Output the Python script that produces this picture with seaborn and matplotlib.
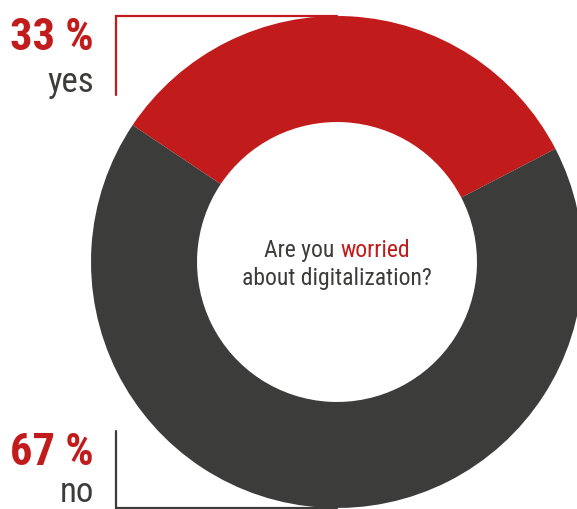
import matplotlib
matplotlib.use("Agg")
import matplotlib.pyplot as plt
from matplotlib import font_manager
import seaborn as sns

# ---- data ----
labels = ["yes", "no"]
values = [33, 67]
pct_labels = ["33 %", "67 %"]
colors = ["#C21B1B", "#3C3C3B"]
question_parts = ["Are you", "worried", "about digitalization?"]

sns.set_theme(style="white")

avail = {f.name for f in font_manager.fontManager.ttflist}
stretch = "normal"
if "Liberation Sans Narrow" in avail:
    fam = "Liberation Sans Narrow"
elif "Roboto Condensed" in avail:
    fam = "Roboto Condensed"
elif "DejaVu Sans" in avail:
    fam = "DejaVu Sans"
    stretch = "condensed"
else:
    fam = "Liberation Sans"
plt.rcParams["font.family"] = [fam, "DejaVu Sans"]

W, H = 577, 509
fig = plt.figure(figsize=(W / 100, H / 100), dpi=100)
fig.patch.set_facecolor("white")

cx, cy, R = 337, 262, 246
ax = fig.add_axes([(cx - R) / W, (H - cy - R) / H, 2 * R / W, 2 * R / H])
ax.pie(values, colors=colors, startangle=27.4, counterclock=True,
       radius=1.0, wedgeprops=dict(width=0.431, linewidth=0))
ax.set_xlim(-1, 1)
ax.set_ylim(-1, 1)
ax.set_axis_off()

# overlay in pixel coordinates
ov = fig.add_axes([0, 0, 1, 1], zorder=-1)
ov.set_xlim(0, W)
ov.set_ylim(H, 0)
ov.set_axis_off()
ov.patch.set_alpha(0)

# brackets
ov.plot([116, 116, cx], [95, 15.5, 15.5], color=colors[0], lw=1.6, solid_joinstyle="miter")
ov.plot([116, 116, cx], [431, 507.5, 507.5], color=colors[1], lw=1.6, solid_joinstyle="miter")

# side labels
ov.text(94, 50, pct_labels[0], ha="right", va="baseline", fontsize=32,
        fontweight="bold", color=colors[0], fontstretch=stretch)
ov.text(94, 92, labels[0], ha="right", va="baseline", fontsize=25,
        color=colors[1], fontstretch=stretch)
ov.text(94, 465, pct_labels[1], ha="right", va="baseline", fontsize=32,
        fontweight="bold", color=colors[0], fontstretch=stretch)
ov.text(94, 508.5, labels[1], ha="right", va="bottom", fontsize=25,
        color=colors[1], fontstretch=stretch)

# center question
fs = 17
renderer = fig.canvas.get_renderer()
full = ov.text(0, 0, question_parts[0] + " " + question_parts[1], fontsize=fs, fontstretch=stretch)
wfull = full.get_window_extent(renderer).width
full.remove()
ov.text(cx - wfull / 2, 257, question_parts[0], ha="left", va="baseline",
        fontsize=fs, color=colors[1], fontstretch=stretch)
ov.text(cx + wfull / 2, 257, question_parts[1], ha="right", va="baseline",
        fontsize=fs, color=colors[0], fontstretch=stretch)
ov.text(cx, 285, question_parts[2], ha="center", va="baseline",
        fontsize=fs, color=colors[1], fontstretch=stretch)

fig.savefig("out.png", dpi=100, facecolor="white")
